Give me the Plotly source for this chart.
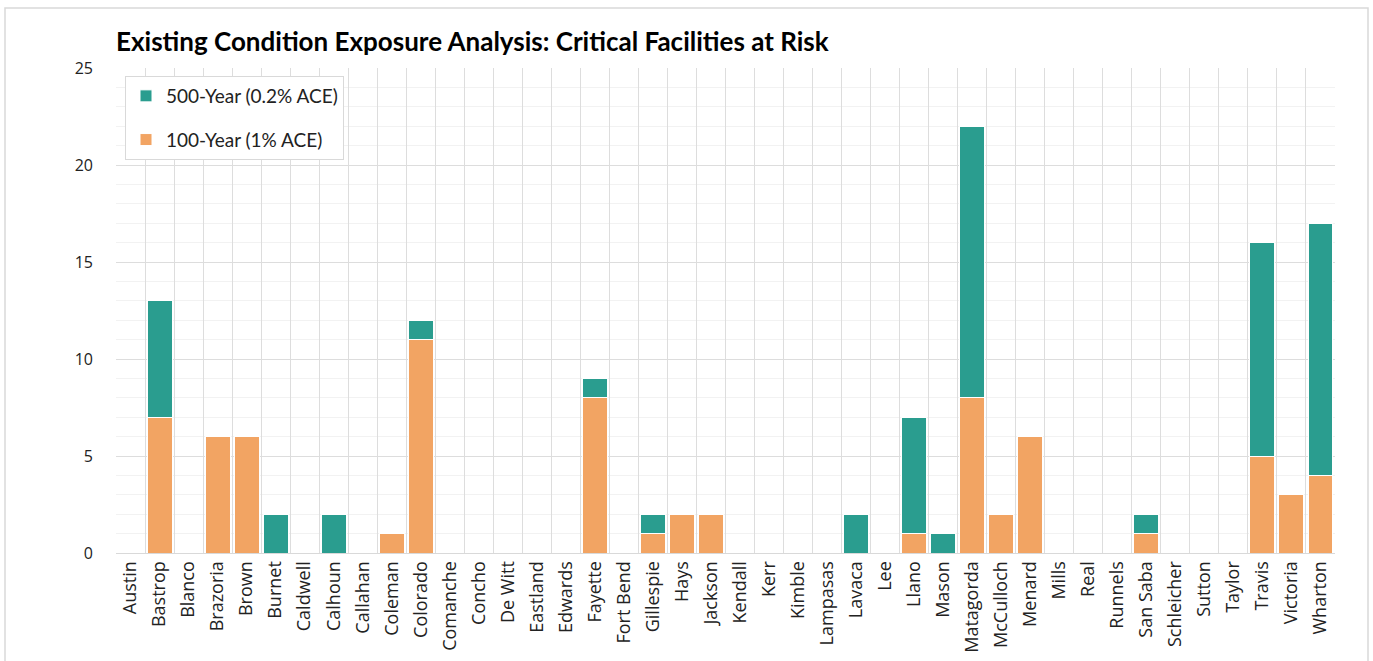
import plotly.graph_objects as go

counties = ["Austin", "Bastrop", "Blanco", "Brazoria", "Brown", "Burnet", "Caldwell", "Calhoun",
            "Callahan", "Coleman", "Colorado", "Comanche", "Concho", "De Witt", "Eastland", "Edwards",
            "Fayette", "Fort Bend", "Gillespie", "Hays", "Jackson", "Kendall", "Kerr", "Kimble",
            "Lampasas", "Lavaca", "Lee", "Llano", "Mason", "Matagorda", "McCulloch", "Menard",
            "Mills", "Real", "Runnels", "San Saba", "Schleicher", "Sutton", "Taylor", "Travis",
            "Victoria", "Wharton"]

year100 = [0, 7, 0, 6, 6, 0, 0, 0, 0, 1, 11, 0, 0, 0, 0, 0, 8, 0, 1, 2, 2, 0, 0, 0,
           0, 0, 0, 1, 0, 8, 2, 6, 0, 0, 0, 1, 0, 0, 0, 5, 3, 4]
year500 = [0, 6, 0, 0, 0, 2, 0, 2, 0, 0, 1, 0, 0, 0, 0, 0, 1, 0, 1, 0, 0, 0, 0, 0,
           0, 2, 0, 6, 1, 14, 0, 0, 0, 0, 0, 1, 0, 0, 0, 11, 0, 13]

yticks = [0, 5, 10, 15, 20, 25]

ORANGE = "#F2A463"
TEAL = "#2A9D8F"

fig = go.Figure()
fig.add_trace(go.Bar(x=counties, y=year100, name="100-Year (1% ACE)", legendgroup="a",
                     legendrank=2,
                     marker=dict(color=ORANGE, line=dict(color="white", width=1))))
fig.add_trace(go.Bar(x=counties, y=year500, name="500-Year (0.2% ACE)", legendgroup="b",
                     legendrank=1,
                     marker=dict(color=TEAL, line=dict(color="white", width=1))))

L, R, T, B = 116, 38, 68, 108
W, H = 1373, 661
pw, ph = W - L - R, H - T - B

def px(x):
    return (x - L) / pw

def py(y):
    return (H - B - y) / ph

fig.update_layout(
    width=W, height=H,
    barmode="stack", bargap=0.14,
    margin=dict(l=L, r=R, t=T, b=B, autoexpand=False),
    paper_bgcolor="white", plot_bgcolor="white",
    font=dict(family="Open Sans", color="#222222"),
    title=dict(text="<b>Existing Condition Exposure Analysis: Critical Facilities at Risk</b>",
               font=dict(family="Lato", size=26, color="black"),
               x=px(116), xref="paper", xanchor="left",
               y=1 - 42 / H, yref="container", yanchor="middle"),
    legend=dict(x=px(125), y=py(76), xanchor="left", yanchor="top",
                traceorder="grouped", tracegroupgap=16,
                bordercolor="#D9D9D9", borderwidth=1, bgcolor="white",
                font=dict(family="Lato", size=19, color="#222222"),
                itemwidth=30),
    showlegend=True,
)

fig.update_xaxes(type="category", tickangle=-90, tickson="boundaries", ticks="",
                 showgrid=True, gridcolor="#DDDDDD", gridwidth=1,
                 showline=True, linecolor="#D9D9D9", linewidth=1, automargin=False,
                 tickfont=dict(family="Open Sans", size=18, color="#222222"), mirror=False)
fig.update_yaxes(range=[0, 25], tickvals=yticks, ticks="", automargin=False,
                 showgrid=True, gridcolor="#DDDDDD", gridwidth=1,
                 minor=dict(dtick=1, showgrid=True, gridcolor="#F2F2F2", gridwidth=1),
                 zeroline=False, showline=False,
                 tickfont=dict(family="Open Sans", size=16, color="#222222"), ticklabelstandoff=22)

# outer chart frame
fig.add_shape(type="rect", xref="paper", yref="paper",
              x0=px(5), x1=px(1368), y0=py(700), y1=py(8),
              line=dict(color="#D9D9D9", width=1.5), layer="below")

fig.write_html("out.html", config={"displayModeBar": False},
               post_script="document.body.style.margin='0';document.body.style.overflow='hidden';")
